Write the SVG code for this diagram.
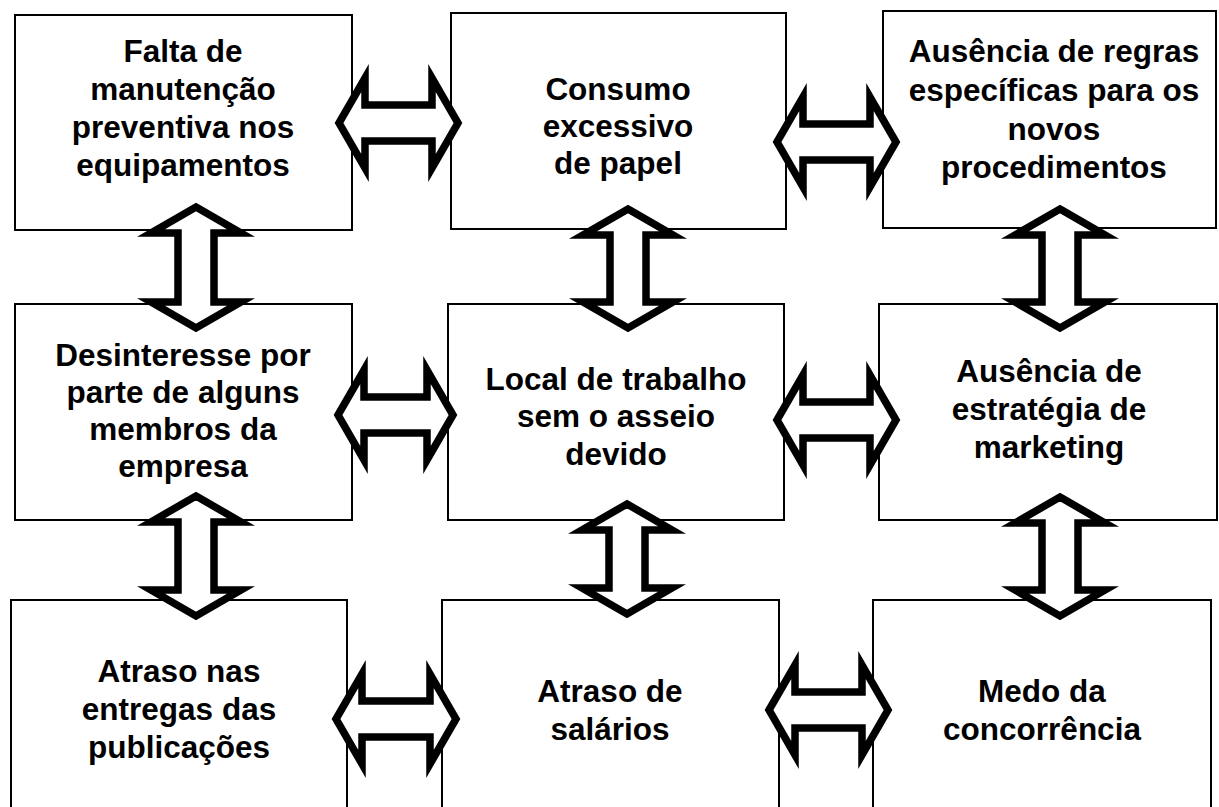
<svg xmlns="http://www.w3.org/2000/svg" width="1219" height="807" viewBox="0 0 1219 807">
<style>
.box{fill:#fff;stroke:#000;stroke-width:2}
.t{font-family:"Liberation Sans",Arial,sans-serif;font-weight:bold;font-size:31.5px;fill:#000;text-anchor:middle}
.arr{fill:#fff;stroke:#000;stroke-width:7.5;stroke-linejoin:miter;stroke-miterlimit:10}
</style>
<rect width="1219" height="807" fill="#fff"/>
<g id="nodeA"><rect class="box" x="15" y="15" width="337" height="215"/>
<text class="t" x="183" y="62">Falta de</text><text class="t" x="183" y="100">manutenção</text><text class="t" x="183" y="138">preventiva nos</text><text class="t" x="183" y="176">equipamentos</text></g>
<g id="nodeB"><rect class="box" x="451" y="13" width="335" height="216"/>
<text class="t" x="618" y="100">Consumo</text><text class="t" x="618" y="137">excessivo</text><text class="t" x="618" y="174">de papel</text></g>
<g id="nodeC"><rect class="box" x="883" y="11" width="333" height="217"/>
<text class="t" x="1054" y="62">Ausência de regras</text><text class="t" x="1054" y="101">específicas para os</text><text class="t" x="1054" y="140">novos</text><text class="t" x="1054" y="178">procedimentos</text></g>
<g id="nodeD"><rect class="box" x="15" y="304" width="337" height="216"/>
<text class="t" x="183" y="366">Desinteresse por</text><text class="t" x="183" y="403">parte de alguns</text><text class="t" x="183" y="440">membros da</text><text class="t" x="183" y="477">empresa</text></g>
<g id="nodeE"><rect class="box" x="448" y="304" width="336" height="216"/>
<text class="t" x="616" y="390">Local de trabalho</text><text class="t" x="616" y="427">sem o asseio</text><text class="t" x="616" y="465">devido</text></g>
<g id="nodeF"><rect class="box" x="879" y="304" width="338" height="216"/>
<text class="t" x="1049" y="382">Ausência de</text><text class="t" x="1049" y="420">estratégia de</text><text class="t" x="1049" y="458">marketing</text></g>
<g id="nodeG"><rect class="box" x="11" y="600" width="336" height="220"/>
<text class="t" x="179" y="682">Atraso nas</text><text class="t" x="179" y="720">entregas das</text><text class="t" x="179" y="758">publicações</text></g>
<g id="nodeH"><rect class="box" x="442" y="600" width="337" height="220"/>
<text class="t" x="610" y="702">Atraso de</text><text class="t" x="610" y="740">salários</text></g>
<g id="nodeI"><rect class="box" x="873" y="600" width="338" height="220"/>
<text class="t" x="1042" y="702">Medo da</text><text class="t" x="1042" y="740">concorrência</text></g>
<g id="connectors">
<polygon class="arr" points="339,123 365,78 365,105 432,105 432,78 458,123 432,168 432,141 365,141 365,168"/>
<polygon class="arr" points="777,142 803,97 803,124 870,124 870,97 896,142 870,187 870,160 803,160 803,187"/>
<polygon class="arr" points="338,415 364,370 364,397 427,397 427,370 453,415 427,460 427,433 364,433 364,460"/>
<polygon class="arr" points="777,420 803,375 803,402 870,402 870,375 896,420 870,465 870,438 803,438 803,465"/>
<polygon class="arr" points="336,719 362,674 362,701 430,701 430,674 456,719 430,764 430,737 362,737 362,764"/>
<polygon class="arr" points="769,710 795,665 795,692 862,692 862,665 888,710 862,755 862,728 795,728 795,755"/>
<polygon class="arr" points="196,207 241,233 214,233 214,302 241,302 196,328 151,302 178,302 178,233 151,233"/>
<polygon class="arr" points="628,209 673,235 646,235 646,302 673,302 628,328 583,302 610,302 610,235 583,235"/>
<polygon class="arr" points="1060,209 1105,235 1078,235 1078,302 1105,302 1060,328 1015,302 1042,302 1042,235 1015,235"/>
<polygon class="arr" points="196,496 241,522 214,522 214,590 241,590 196,616 151,590 178,590 178,522 151,522"/>
<polygon class="arr" points="627,504 672,530 645,530 645,588 672,588 627,614 582,588 609,588 609,530 582,530"/>
<polygon class="arr" points="1060,497 1105,523 1078,523 1078,590 1105,590 1060,616 1015,590 1042,590 1042,523 1015,523"/>
</g>
</svg>
